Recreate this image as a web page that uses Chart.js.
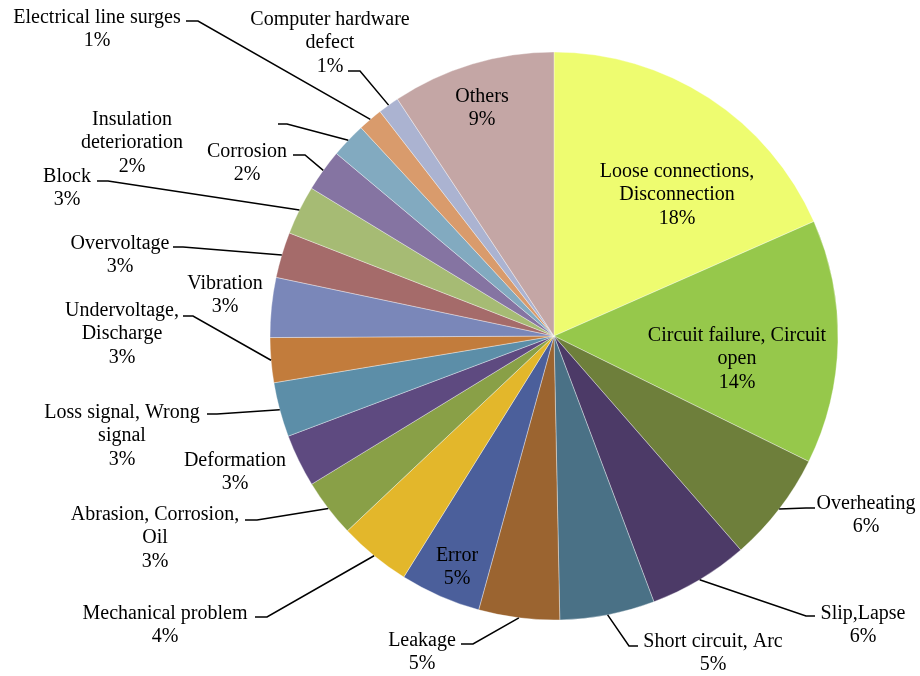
<!DOCTYPE html>
<html>
<head>
<meta charset="utf-8">
<script src="https://cdn.jsdelivr.net/npm/chart.js@4/dist/chart.umd.min.js"></script>
<style>
  html, body { margin: 0; padding: 0; background: #fff; }
  #wrap { width: 920px; height: 676px; }
</style>
</head>
<body>
<div id="wrap"><canvas id="myChart" width="920" height="676"></canvas></div>
<script>
// failure causes, clockwise from 12 o'clock
const categories = [
  ["Loose connections,", "Disconnection"],
  ["Circuit failure, Circuit", "open"],
  ["Overheating"],
  ["Slip,Lapse"],
  ["Short circuit, Arc"],
  ["Leakage"],
  ["Error"],
  ["Mechanical problem"],
  ["Abrasion, Corrosion,", "Oil"],
  ["Deformation"],
  ["Loss signal, Wrong", "signal"],
  ["Undervoltage,", "Discharge"],
  ["Vibration"],
  ["Overvoltage"],
  ["Block"],
  ["Corrosion"],
  ["Insulation", "deterioration"],
  ["Electrical line surges"],
  ["Computer hardware", "defect"],
  ["Others"],
];
const shares = [18.4, 13.9, 6.3, 5.7, 5.4, 4.6, 4.6, 4.1, 3.3, 3.0,
                3.1, 2.55, 3.4, 2.6, 2.8, 2.4, 2.0, 1.4, 1.2, 9.3];
const colors = [
  "#eefc70", "#96c84b", "#6e7f3b", "#4c3a67", "#4a7186",
  "#9b6430", "#4b5f9b", "#e3b72b", "#89a047", "#5e4a80",
  "#5c8ea8", "#c27c3c", "#7a87b9", "#a56b6a", "#a6bb74",
  "#8574a2", "#82aac0", "#d99b6c", "#abb3d1", "#c4a6a5",
];

// where each label's first line sits, and its leader line (start, elbow) if any
const labelPos = [
  [677, 170], [737, 334], [866, 502], [863, 612], [713, 640],
  [422, 639], [457, 554], [165, 612], [155, 513], [235, 459],
  [122, 411], [122, 309], [225, 282], [120, 242], [67, 175],
  [247, 150], [132, 118], [97, 16], [330, 18], [482, 95],
];
const leaders = [
  null, null, [815, 508, 806, 508], [815, 616, 806, 616], [638, 646, 629, 646],
  [461, 644, 473, 644], null, [255, 617, 267, 617], [245, 520, 257, 520], null,
  [207, 414, 217, 414], [183, 316, 193, 316], null, [173, 247, 183, 247], [97, 181, 108, 181],
  [293, 155, 305, 155], [278, 124, 287, 124], [186, 21, 198, 21], [348, 71, 360, 71], null,
];

const lineH = 23.5;

const pieLabels = {
  id: "pieLabels",
  afterDraw(chart) {
    const ctx = chart.ctx;
    const meta = chart.getDatasetMeta(0);
    const total = shares.reduce((a, b) => a + b, 0);
    ctx.save();
    ctx.font = "20px 'Liberation Serif', 'Times New Roman', serif";
    ctx.fillStyle = "#000";
    ctx.textAlign = "center";
    ctx.textBaseline = "middle";
    meta.data.forEach((arc, i) => {
      const lines = categories[i].concat([Math.round(shares[i] / total * 100) + "%"]);
      const [x, y] = labelPos[i];
      lines.forEach((t, k) => ctx.fillText(t, x, y + 1.5 + k * lineH));
      const ld = leaders[i];
      if (ld) {
        const mid = (arc.startAngle + arc.endAngle) / 2;
        const ex = arc.x + Math.cos(mid) * arc.outerRadius;
        const ey = arc.y + Math.sin(mid) * arc.outerRadius;
        ctx.beginPath();
        ctx.moveTo(ld[0], ld[1]);
        ctx.lineTo(ld[2], ld[3]);
        ctx.lineTo(ex, ey);
        ctx.strokeStyle = "#000";
        ctx.lineWidth = 1.5;
        ctx.stroke();
      }
    });
    ctx.restore();
  },
};

const ctx = document.getElementById("myChart");
const myChart = new Chart(ctx, {
  type: "pie",
  data: {
    labels: categories,
    datasets: [
      {
        data: shares,
        backgroundColor: colors,
        borderColor: "rgba(255,255,255,0.45)",
        borderWidth: 0.8,
      },
    ],
  },
  options: {
    responsive: false,
    animation: false,
    radius: 284,
    layout: { padding: { left: 270, right: 82, top: 52, bottom: 56 } },
    plugins: {
      legend: { display: false },
      tooltip: { enabled: false },
    },
  },
  plugins: [pieLabels],
});
</script>
</body>
</html>
